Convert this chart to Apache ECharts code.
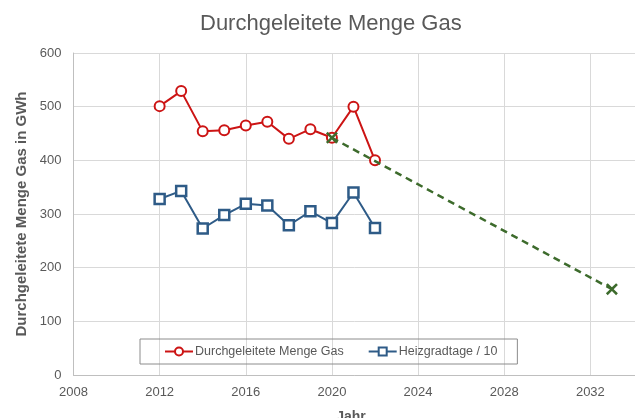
<!DOCTYPE html>
<html><head><meta charset="utf-8">
<script src="https://cdn.jsdelivr.net/npm/echarts@6/dist/echarts.min.js"></script>
<style>html,body{margin:0;padding:0;background:#fff}#c{width:635px;height:418px}</style>
</head><body><div id="c"></div>
<script>
const years = [2012,2013,2014,2015,2016,2017,2018,2019,2020,2021,2022];
const gasValues = [501,529,454,456,465,472,440,458,442,500,400];
const heatValues = [328,343,273,298,319,316,279,305,283,340,274];
const trendYears = [2020,2033];
const trendValues = [442,160];
const xTicks = {min:2008,max:2036,interval:4};
const yTicks = {min:0,max:600,interval:100};

const pair = (xs, ys) => xs.map((x,i)=>[x,ys[i]]);
const font = 'Liberation Sans, Arial, sans-serif';
const txt = '#595959';
const xPath = 'path://M0,1.5L1.5,0L5,3.5L8.5,0L10,1.5L6.5,5L10,8.5L8.5,10L5,6.5L1.5,10L0,8.5L3.5,5Z';

const chart = echarts.init(document.getElementById('c'));
chart.setOption({
  animation:false,
  textStyle:{fontFamily:font},
  title:{text:'Durchgeleitete Menge Gas',left:195,top:8,
    textStyle:{fontFamily:font,fontSize:22,fontWeight:'normal',color:txt}},
  grid:{left:73.5,top:53,width:603,height:322,containLabel:false,outerBoundsMode:'none'},
  legend:{data:['Durchgeleitete Menge Gas','Heizgradtage / 10'],left:140,top:339,
    borderColor:'#8c8c8c',borderWidth:1,padding:[6,20,6,24],itemGap:24,itemWidth:28,itemHeight:10,
    textStyle:{fontFamily:font,fontSize:12.5,color:txt,padding:[0,0,0,-3]}},
  graphic:[{type:'text',x:351,y:410,style:{text:'Jahr',align:'center',verticalAlign:'top',
    font:'bold 14px '+font,fill:txt}}],
  xAxis:{type:'value',min:xTicks.min,max:xTicks.max,interval:xTicks.interval,
    axisLine:{lineStyle:{color:'#bfbfbf'}},axisTick:{show:false},
    axisLabel:{color:txt,fontSize:13,margin:11,fontFamily:font,formatter:v=>String(v)},
    splitLine:{show:true,lineStyle:{color:'#d9d9d9',width:1}}},
  yAxis:{type:'value',min:yTicks.min,max:yTicks.max,interval:yTicks.interval,
    name:'Durchgeleitete Menge Gas in GWh',nameLocation:'middle',nameGap:44,
    nameTextStyle:{fontFamily:font,fontSize:15,fontWeight:'bold',color:txt},
    axisLine:{show:true,lineStyle:{color:'#bfbfbf'}},axisTick:{show:false},
    axisLabel:{color:txt,fontSize:13,margin:12,fontFamily:font},
    splitLine:{show:true,lineStyle:{color:'#d9d9d9',width:1}}},
  series:[
    {name:'Trend',type:'line',data:pair(trendYears,trendValues),
      symbol:xPath,symbolSize:12,itemStyle:{color:'#3d6b2c'},
      lineStyle:{color:'#3d6b2c',width:2.5,type:[7,5]},z:3},
    {name:'Durchgeleitete Menge Gas',type:'line',data:pair(years,gasValues),
      symbol:'circle',symbolSize:10,showAllSymbol:true,
      itemStyle:{color:'#fff',borderColor:'#cc1414',borderWidth:2},
      lineStyle:{color:'#cc1414',width:2},z:2},
    {name:'Heizgradtage / 10',type:'line',data:pair(years,heatValues),
      symbol:'rect',symbolSize:10,showAllSymbol:true,
      itemStyle:{color:'#fff',borderColor:'#2e5b87',borderWidth:2.5},
      lineStyle:{color:'#2e5b87',width:2},z:2}
  ]
});
</script></body></html>
